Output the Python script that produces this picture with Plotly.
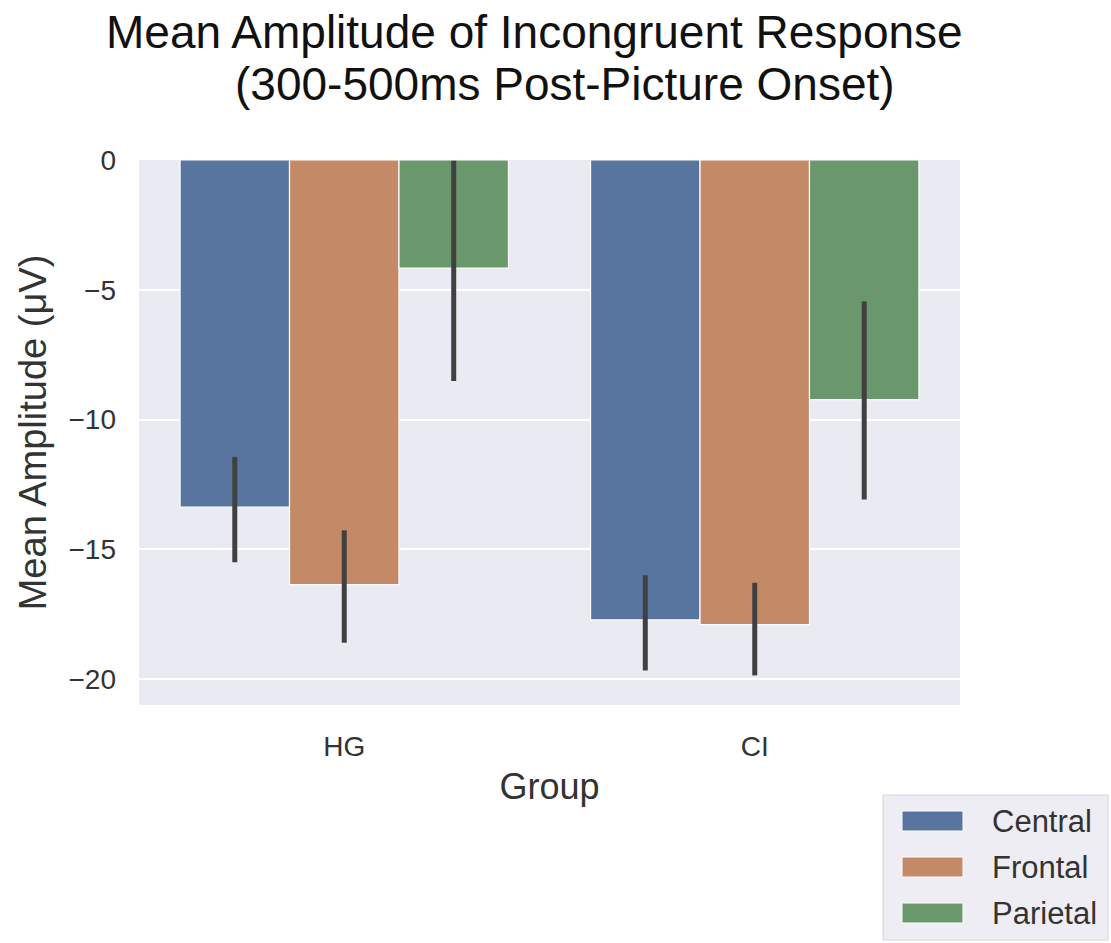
import plotly.graph_objects as go

groups = ["HG", "CI"]
regions = ["Central", "Frontal", "Parietal"]
means = {
    "Central": [-13.37, -17.72],
    "Frontal": [-16.36, -17.90],
    "Parietal": [-4.17, -9.23],
}
ci_upper = {
    "Central": [-11.44, -16.00],
    "Frontal": [-14.27, -16.29],
    "Parietal": [-0.03, -5.45],
}
ci_lower = {
    "Central": [-15.50, -19.67],
    "Frontal": [-18.60, -19.86],
    "Parietal": [-8.52, -13.08],
}
colors = {"Central": "#5875a0", "Frontal": "#c48a68", "Parietal": "#6a976b"}
yticks = [0, -5, -10, -15, -20]
title_lines = ["Mean Amplitude of Incongruent Response", "(300-500ms Post-Picture Onset)"]

FONT = "Liberation Sans, Arial, sans-serif"
W, H = 1111, 943
ML, MR, MT, MB = 139, 151, 160, 238
pw = W - ML - MR
ph = H - MT - MB


def px_x(px):
    return (px - ML) / pw


def px_y(py):
    return (H - MB - py) / ph


fig = go.Figure()
for r in regions:
    m = means[r]
    plus = [u - v for u, v in zip(ci_upper[r], m)]
    minus = [v - l for v, l in zip(m, ci_lower[r])]
    fig.add_trace(go.Bar(
        x=groups, y=m, name=r, showlegend=False,
        marker=dict(color=colors[r], line=dict(color="white", width=1.2)),
        error_y=dict(type="data", symmetric=False, array=plus, arrayminus=minus,
                     color="#404040", thickness=5, width=0),
    ))

fig.update_layout(
    width=W, height=H,
    margin=dict(l=ML, r=MR, t=MT, b=MB),
    paper_bgcolor="white", plot_bgcolor="#eaeaf2",
    barmode="group", bargap=0.2, bargroupgap=0,
    font=dict(family=FONT, color="#333333"),
    showlegend=False,
)

# Title (two centred lines, as in the original)
fig.add_annotation(text=title_lines[0], x=px_x(534), y=px_y(32),
                   xref="paper", yref="paper", showarrow=False,
                   font=dict(size=46, color="#111111", family=FONT),
                   xanchor="center", yanchor="middle")
fig.add_annotation(text=title_lines[1], x=px_x(565), y=px_y(84),
                   xref="paper", yref="paper", showarrow=False,
                   font=dict(size=46, color="#111111", family=FONT),
                   xanchor="center", yanchor="middle")

# Legend box (wide swatches like matplotlib)
fig.add_shape(type="rect", xref="paper", yref="paper",
              x0=px_x(883), x1=px_x(1108), y0=px_y(940), y1=px_y(795),
              fillcolor="#ededf3", line=dict(color="#d4d4da", width=1), layer="below")
row_y = [821, 867, 913]
for r, yy in zip(regions, row_y):
    fig.add_shape(type="rect", xref="paper", yref="paper",
                  x0=px_x(902), x1=px_x(963), y0=px_y(yy + 10), y1=px_y(yy - 10),
                  fillcolor=colors[r], line=dict(color="white", width=1))
    fig.add_annotation(text=r, x=px_x(990), y=px_y(yy), xref="paper", yref="paper",
                       showarrow=False, xanchor="left", yanchor="middle",
                       font=dict(size=31, color="#333333", family=FONT))

fig.update_xaxes(
    showgrid=False, zeroline=False, showline=False,
    tickfont=dict(size=28, color="#333333"),
    ticklabelstandoff=22,
    title=dict(text="Group", font=dict(size=36, color="#333333"), standoff=12),
)
fig.update_yaxes(
    range=[-21, 0], tickvals=yticks,
    showgrid=True, gridcolor="white", gridwidth=2,
    zeroline=False, showline=False,
    tickfont=dict(size=28, color="#333333"),
    ticklabelstandoff=22,
    title=dict(text="Mean Amplitude (μV)", font=dict(size=38, color="#333333"), standoff=10),
)

fig.write_html("out.html")
